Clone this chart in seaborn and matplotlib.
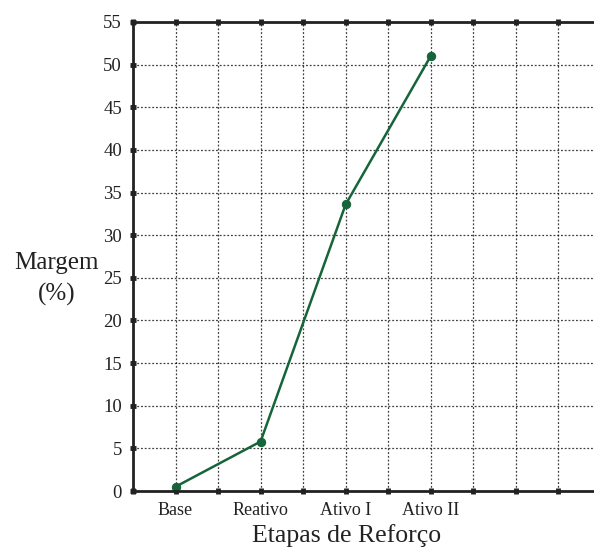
import matplotlib
matplotlib.use("Agg")
from matplotlib import pyplot as plt
import seaborn as sns
import numpy as np

# Chart data
etapas = ["Base", "Reativo", "Ativo I", "Ativo II"]
margem = [0.5, 5.8, 33.6, 51.0]
posicoes = [1, 2, 3, 4]


def main():
    sns.set_theme(style="white")
    plt.rcParams['font.family'] = ['Liberation Serif', 'DejaVu Serif']

    fig = plt.figure(figsize=(5.94, 5.5), dpi=100)
    ax = fig.add_axes([133 / 594, 59 / 550, 1 - 133 / 594, 469 / 550])

    sns.lineplot(x=posicoes, y=margem, ax=ax, color="#16643a", linewidth=1.8,
                 marker="o", markersize=6, markeredgecolor="#16643a")

    ax.set_xlim(0.5, 5.92)
    ax.set_ylim(0, 55)

    # grid every 0.5 on x, labels only on categories
    xt = np.arange(0.5, 5.51, 0.5)
    ax.set_xticks(xt)
    labels = []
    for v in xt:
        if v in posicoes:
            labels.append(etapas[posicoes.index(v)])
        else:
            labels.append("")
    ax.set_xticklabels(labels, fontsize=13)
    ax.set_yticks(np.arange(0, 56, 5))
    ax.set_yticklabels([str(v) for v in range(0, 56, 5)], fontsize=13.5)

    ax.grid(True, linestyle=(0, (1.5, 1.5)), color="black", linewidth=0.9, alpha=0.75)
    ax.tick_params(axis="both", direction="inout", length=4, width=3.5,
                   color="#222222", top=True, right=False, left=True, bottom=True,
                   labelcolor="#222222")
    ax.tick_params(axis="y", pad=6)
    ax.tick_params(axis="x", pad=6)

    for s in ["left", "bottom", "top"]:
        ax.spines[s].set_visible(True)
        ax.spines[s].set_color("#222222")
        ax.spines[s].set_linewidth(2)
    ax.spines["right"].set_visible(False)

    ax.set_xlabel("Etapas de Reforço", fontsize=18.5, color="#222222", labelpad=2)
    ax.set_ylabel("Margem\n(%)", fontsize=18, rotation=0, color="#222222",
                  linespacing=1.45)
    ax.yaxis.set_label_coords(-0.165, 0.452)
    ax.yaxis.label.set_verticalalignment("center")
    ax.xaxis.set_label_coords((347 - 133) / 461, -0.094)
    ax.xaxis.label.set_verticalalignment("center")

    fig.savefig("out.png", dpi=100)


if __name__ == "__main__":
    main()
